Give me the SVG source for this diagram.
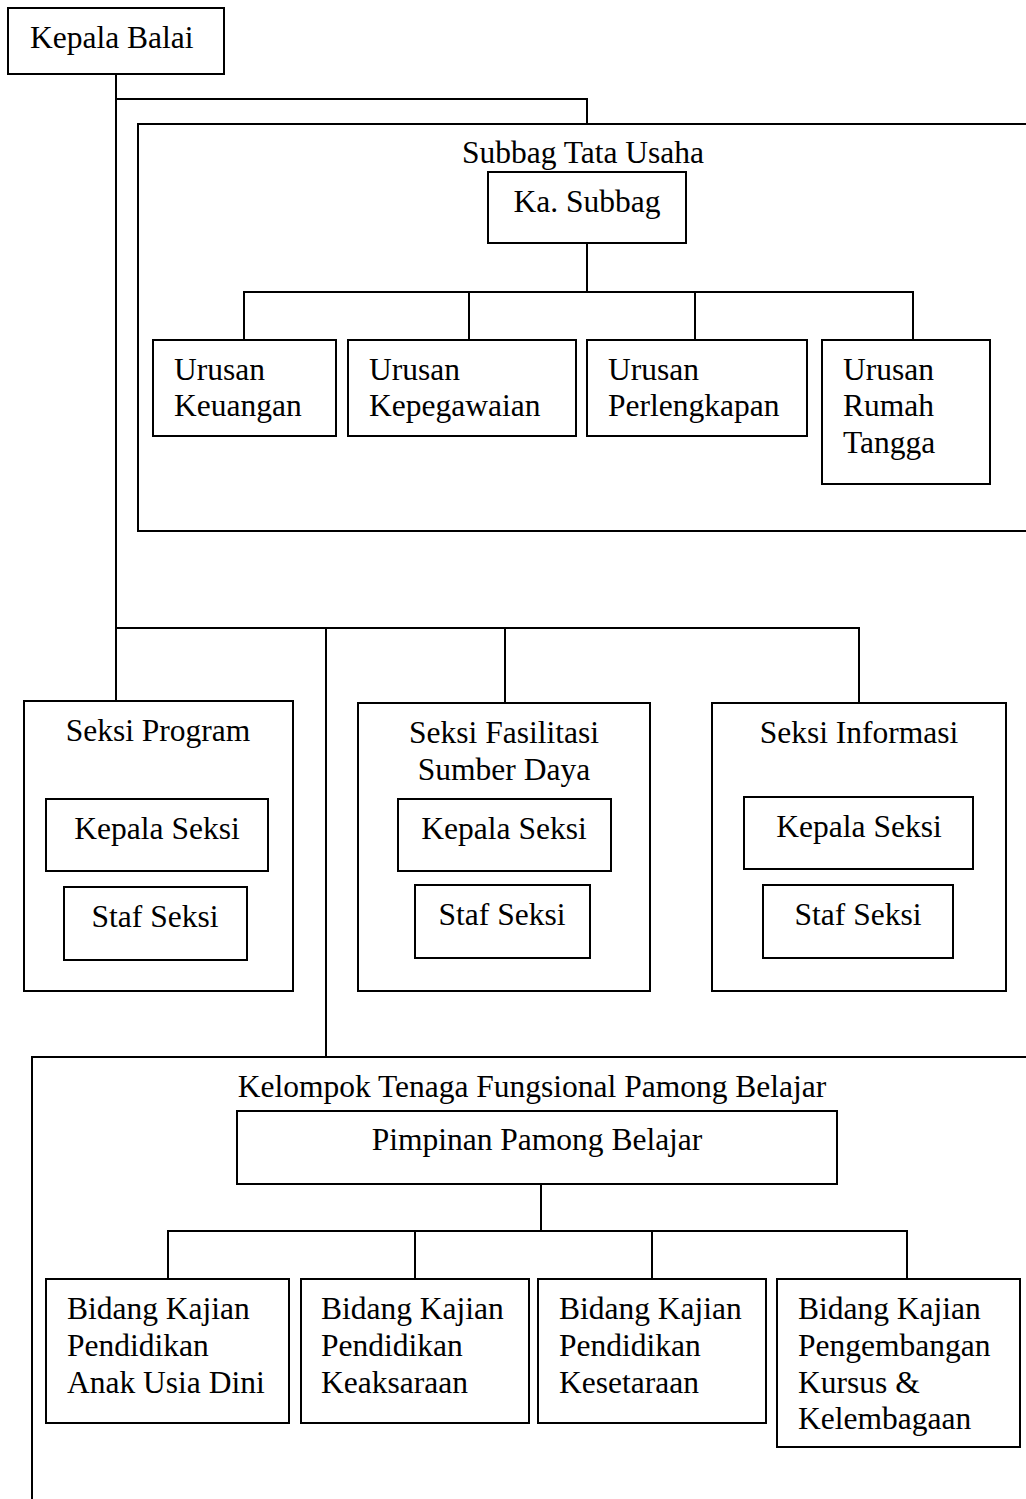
<svg xmlns="http://www.w3.org/2000/svg" width="1026" height="1499" viewBox="0 0 1026 1499">
<style>
rect{fill:none;stroke:#000;stroke-width:2}
rect.bg{fill:#fff;stroke:none}
line,path{fill:none;stroke:#000;stroke-width:2}
text{font-family:"Liberation Serif","Times New Roman",serif;font-size:31.5px;fill:#000}
.c{text-anchor:middle}
</style>
<rect class="bg" x="0" y="0" width="1026" height="1499"/>
<g id="connectors">
<path d="M116,74 V628"/>
<path d="M116,99 H587 V124"/>
<path d="M587,243 V292"/>
<path d="M244,340 V292 H913 V340"/>
<path d="M469,292 V340"/>
<path d="M695,292 V340"/>
<path d="M116,628 H859 V703"/>
<path d="M116,628 V701"/>
<path d="M505,628 V703"/>
<path d="M326,628 V1057"/>
<path d="M541,1184 V1231"/>
<path d="M168,1279 V1231 H907 V1279"/>
<path d="M415,1231 V1279"/>
<path d="M652,1231 V1279"/>
</g>
<g id="kepala-balai"><rect x="8" y="8" width="216" height="66"/><text x="30" y="48">Kepala Balai</text></g>
<g id="subbag-tata-usaha"><rect x="138" y="124" width="900" height="407"/><text class="c" x="583" y="163">Subbag Tata Usaha</text></g>
<g id="ka-subbag"><rect x="488" y="172" width="198" height="71"/><text class="c" x="587" y="212">Ka. Subbag</text></g>
<g id="urusan-keuangan"><rect x="153" y="340" width="183" height="96"/><text x="174" y="380">Urusan</text><text x="174" y="416">Keuangan</text></g>
<g id="urusan-kepegawaian"><rect x="348" y="340" width="228" height="96"/><text x="369" y="380">Urusan</text><text x="369" y="416">Kepegawaian</text></g>
<g id="urusan-perlengkapan"><rect x="587" y="340" width="220" height="96"/><text x="608" y="380">Urusan</text><text x="608" y="416">Perlengkapan</text></g>
<g id="urusan-rumah-tangga"><rect x="822" y="340" width="168" height="144"/><text x="843" y="380">Urusan</text><text x="843" y="416">Rumah</text><text x="843" y="453">Tangga</text></g>
<g id="seksi-program"><rect x="24" y="701" width="269" height="290"/><text class="c" x="158" y="741">Seksi Program</text>
<rect x="46" y="799" width="222" height="72"/><text class="c" x="157" y="839">Kepala Seksi</text>
<rect x="64" y="887" width="183" height="73"/><text class="c" x="155" y="927">Staf Seksi</text></g>
<g id="seksi-fasilitasi"><rect x="358" y="703" width="292" height="288"/><text class="c" x="504" y="743">Seksi Fasilitasi</text><text class="c" x="504" y="780">Sumber Daya</text>
<rect x="398" y="799" width="213" height="72"/><text class="c" x="504" y="839">Kepala Seksi</text>
<rect x="415" y="885" width="175" height="73"/><text class="c" x="502" y="925">Staf Seksi</text></g>
<g id="seksi-informasi"><rect x="712" y="703" width="294" height="288"/><text class="c" x="859" y="743">Seksi Informasi</text>
<rect x="744" y="797" width="229" height="72"/><text class="c" x="859" y="837">Kepala Seksi</text>
<rect x="763" y="885" width="190" height="73"/><text class="c" x="858" y="925">Staf Seksi</text></g>
<g id="kelompok"><rect x="32" y="1057" width="1010" height="460"/><text class="c" x="532" y="1097">Kelompok Tenaga Fungsional Pamong Belajar</text></g>
<g id="pimpinan"><rect x="237" y="1111" width="600" height="73"/><text class="c" x="537" y="1150">Pimpinan Pamong Belajar</text></g>
<g id="bidang-paud"><rect x="46" y="1279" width="243" height="144"/><text x="67" y="1319">Bidang Kajian</text><text x="67" y="1356">Pendidikan</text><text x="67" y="1393">Anak Usia Dini</text></g>
<g id="bidang-keaksaraan"><rect x="301" y="1279" width="228" height="144"/><text x="321" y="1319">Bidang Kajian</text><text x="321" y="1356">Pendidikan</text><text x="321" y="1393">Keaksaraan</text></g>
<g id="bidang-kesetaraan"><rect x="538" y="1279" width="228" height="144"/><text x="559" y="1319">Bidang Kajian</text><text x="559" y="1356">Pendidikan</text><text x="559" y="1393">Kesetaraan</text></g>
<g id="bidang-kursus"><rect x="777" y="1279" width="243" height="168"/><text x="798" y="1319">Bidang Kajian</text><text x="798" y="1356">Pengembangan</text><text x="798" y="1393">Kursus &amp;</text><text x="798" y="1429">Kelembagaan</text></g>
</svg>
